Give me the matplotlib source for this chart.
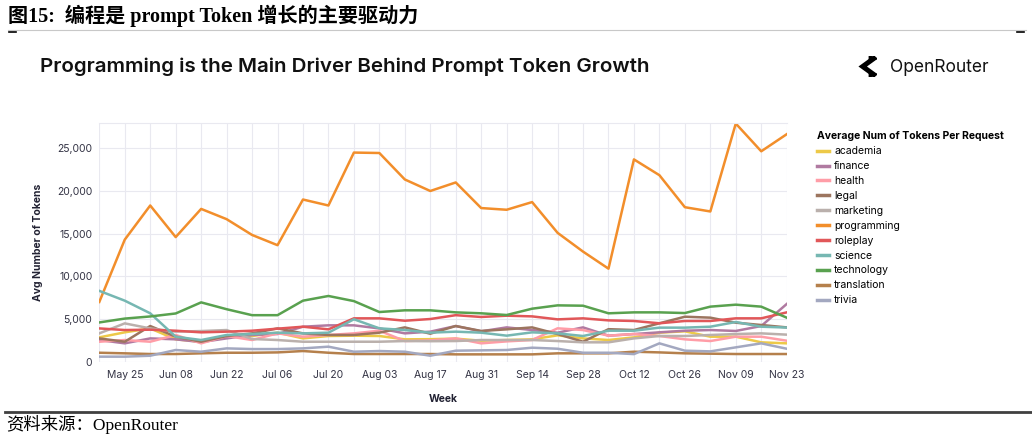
import pandas as pd
import matplotlib
matplotlib.use("Agg")
import matplotlib.pyplot as plt
from matplotlib.ticker import FuncFormatter
from matplotlib.lines import Line2D

# weekly data, May 18 - Nov 23
weeks = pd.date_range("2025-05-18", periods=28, freq="7D")

academia = [2850, 3440, 3900, 2620, 2340, 2930, 3010, 3400, 2730, 3010, 3050, 3010, 2620, 2640,
            2700, 2460, 2540, 2620, 3090, 2730, 2540, 2850, 3400, 3560, 2930, 2930, 2270, 2150]
finance = [2540, 2150, 2730, 2620, 2300, 2730, 3130, 3240, 4100, 4260, 4260, 3900, 3320, 3520,
           4180, 3560, 4020, 3710, 3400, 4020, 3050, 3240, 3440, 3630, 3710, 3600, 4180, 6760]
health = [2340, 2540, 2340, 3130, 2150, 3010, 2540, 3320, 2930, 3130, 3320, 3630, 2420, 2500,
          2730, 2150, 2380, 2540, 3910, 3710, 3050, 3240, 3010, 2620, 2420, 2930, 2930, 2460]
legal = [2730, 2340, 4180, 2930, 2340, 3010, 3320, 3900, 3320, 3130, 3130, 3400, 4020, 3280,
         4180, 3600, 3790, 4020, 3240, 2340, 3810, 3710, 4500, 5270, 5160, 4570, 4300, 4020]
marketing = [3320, 4490, 3900, 3520, 3590, 3710, 2660, 2540, 2340, 2340, 2340, 2340, 2420, 2400,
             2420, 2540, 2540, 2540, 2420, 2270, 2270, 2730, 3010, 3010, 3130, 3240, 3320, 3170]
programming = [7000, 14300, 18300, 14600, 17900, 16700, 14850, 13650, 19000, 18300, 24500, 24450, 21350, 20000,
               21000, 18000, 17800, 18700, 15100, 12900, 10900, 23700, 21850, 18100, 17600, 27900, 24650, 26650]
roleplay = [3900, 3710, 3750, 3630, 3440, 3520, 3630, 3870, 4100, 3790, 5080, 5080, 4800, 5000,
            5450, 5240, 5390, 5310, 4960, 5080, 4840, 4770, 4500, 4770, 4770, 5080, 5080, 5780]
science = [8300, 7150, 5670, 2930, 2540, 3130, 3240, 3400, 3320, 3400, 4970, 3910, 3710, 3400,
           3520, 3400, 3050, 3440, 3320, 3010, 3630, 3630, 3990, 3990, 4100, 4650, 4100, 4000]
technology = [4600, 5050, 5300, 5650, 6950, 6150, 5450, 5450, 7150, 7700, 7100, 5820, 6020, 6020,
              5780, 5670, 5470, 6210, 6600, 6560, 5670, 5780, 5780, 5700, 6450, 6680, 6450, 5160]
translation = [1050, 980, 900, 900, 980, 1050, 1050, 1090, 1250, 1050, 900, 900, 900, 900,
               860, 860, 860, 860, 980, 980, 980, 1170, 1090, 980, 940, 900, 900, 900]
trivia = [590, 590, 700, 1370, 1170, 1560, 1480, 1480, 1560, 1760, 1170, 1250, 1170, 700,
          1290, 1330, 1370, 1640, 1520, 1050, 1050, 890, 2150, 1290, 1210, 1680, 2150, 1520]

series = {
    "academia": (academia, "#edc948"),
    "finance": (finance, "#b07aa1"),
    "health": (health, "#ff9da7"),
    "legal": (legal, "#9c755f"),
    "marketing": (marketing, "#bab0ac"),
    "programming": (programming, "#f28e2b"),
    "roleplay": (roleplay, "#e15759"),
    "science": (science, "#76b7b2"),
    "technology": (technology, "#59a14f"),
    "translation": (translation, "#b5804c"),
    "trivia": (trivia, "#a3a8c0"),
}

W, H = 1032, 438
fig = plt.figure(figsize=(W / 100, H / 100), dpi=100)


def fx(px):
    return px / W


def fy(py):
    return 1 - py / H


# report header
fig.text(fx(8), fy(16), "图15:  编程是 prompt Token 增长的主要驱动力", fontsize=14.5, fontweight="bold",
         family=["Liberation Serif", "Noto Sans CJK SC"], va="center", ha="left")
fig.add_artist(Line2D([fx(8), fx(1026)], [fy(30), fy(30)], color="#c8c8c8", lw=0.8))
fig.add_artist(Line2D([fx(9), fx(16)], [fy(32), fy(32)], color="black", lw=1.2))
fig.add_artist(Line2D([fx(1017), fx(1024)], [fy(32), fy(32)], color="black", lw=1.2))

# chart title + logo
fig.text(fx(40), fy(67), "Programming is the Main Driver Behind Prompt Token Growth", fontsize=14.8,
         fontweight="semibold", family="Inter", va="center", ha="left", color="#111111")
fig.text(fx(890), fy(67), "OpenRouter", fontsize=12.5, family="Inter", va="center", ha="left", color="#111111")
logo = fig.add_axes([fx(855), fy(77), fx(22), 21 / H])
logo.plot([0.85, 0.35, 0.85], [0.88, 0.5, 0.12], color="black", lw=3.6, solid_joinstyle="miter")
logo.fill([0.65, 1.0, 0.65], [1.0, 0.88, 0.74], color="black")
logo.fill([0.65, 1.0, 0.65], [0.0, 0.12, 0.26], color="black")
logo.set_xlim(0, 1)
logo.set_ylim(0, 1)
logo.axis("off")

ax = fig.add_axes([fx(99.3), fy(361.7), fx(786.7) - fx(99.3), fy(122.7) - fy(361.7)])
x = list(range(len(weeks)))
for name, (vals, color) in series.items():
    ax.plot(x, vals, color=color, lw=1.8, label=name, solid_joinstyle="round")

ax.set_xlim(0, len(weeks) - 1)
ax.set_ylim(0, 28000)
ax.set_yticks([0, 5000, 10000, 15000, 20000, 25000])
ax.yaxis.set_major_formatter(FuncFormatter(lambda v, p: f"{v:,.0f}"))
ax.set_xticks(x[1::2])
ax.set_xticklabels([d.strftime("%b %d") for d in weeks[1::2]])
ax.set_xticks(x, minor=True)
ax.grid(True, which="both", color="#e9e9f0", lw=0.8)
ax.set_axisbelow(True)
for s in ["left", "right", "bottom"]:
    ax.spines[s].set_visible(False)
ax.spines["top"].set_color("#e9e9f0")
ax.tick_params(which="both", length=0, labelsize=7.5, colors="#333344", pad=6)
ax.tick_params(axis="y", pad=5)
for lbl in ax.get_xticklabels() + ax.get_yticklabels():
    lbl.set_family("Inter")
ax.set_ylabel("Avg Number of Tokens", fontsize=7.5, fontweight="bold", family="Inter", color="#222233", labelpad=10)
ax.set_xlabel("Week", fontsize=7.5, fontweight="bold", family="Inter", color="#222233", labelpad=10)

leg = fig.legend(loc="upper left", bbox_to_anchor=(fx(808), fy(122)), frameon=False,
                 title="Average Num of Tokens Per Request", alignment="left",
                 prop={"family": "Inter", "size": 7.5}, handlelength=1.1, handletextpad=0.5,
                 labelspacing=0.47)
leg.get_title().set_fontweight("bold")
leg.get_title().set_family("Inter")
leg.get_title().set_fontsize(7.5)
for line in leg.get_lines():
    line.set_linewidth(2.5)

# footer
fig.add_artist(Line2D([fx(5), fx(1032)], [fy(412), fy(412)], color="#404040", lw=2))
fig.text(fx(6), fy(424), "资料来源：OpenRouter", fontsize=12.5,
         family=["Liberation Serif", "Noto Sans CJK SC"], va="center", ha="left")

fig.savefig("out.png", dpi=100)
